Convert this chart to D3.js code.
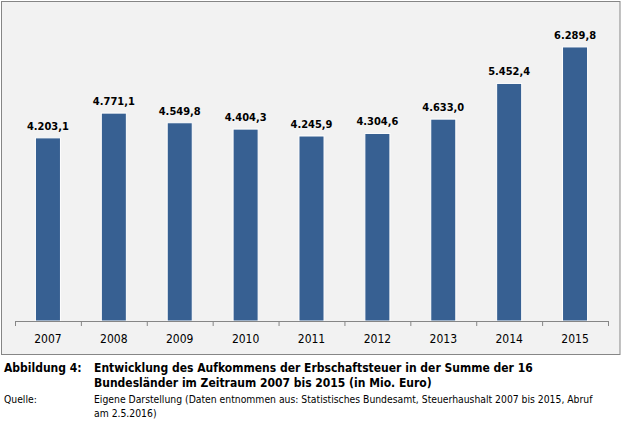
<!DOCTYPE html>
<html>
<head>
<meta charset="utf-8">
<script src="https://cdn.jsdelivr.net/npm/d3@7"></script>
<style>
  body { margin: 0; background: #fff; }
  text { font-family: "DejaVu Sans Condensed", "DejaVu Sans", sans-serif; font-stretch: condensed; }
</style>
</head>
<body>
<div id="chart"></div>
<script>
const width = 624;
const height = 421;

// Daten
const years = ['2007', '2008', '2009', '2010', '2011', '2012', '2013', '2014', '2015'];
const values = [4203.1, 4771.1, 4549.8, 4404.3, 4245.9, 4304.6, 4633.0, 5452.4, 6289.8];
const captionLines = [
  'Entwicklung des Aufkommens der Erbschaftsteuer in der Summe der 16',
  'Bundesländer im Zeitraum 2007 bis 2015 (in Mio. Euro)'
];
const sourceLines = [
  'Eigene Darstellung (Daten entnommen aus: Statistisches Bundesamt, Steuerhaushalt 2007 bis 2015, Abruf',
  'am 2.5.2016)'
];

const de = d3.formatLocale({ decimal: ',', thousands: '.', grouping: [3], currency: ['', ' €'] });
const fmt = de.format(',.1f');

let svg = d3.select('#chart').append('svg')
  .attr('width', width)
  .attr('height', height);

// Rahmen und Hintergrund
svg.append('rect')
  .attr('x', 1.5)
  .attr('y', 1.5)
  .attr('width', 618.5)
  .attr('height', 353)
  .style('fill', '#f2f2f2')
  .style('stroke', '#868686')
  .style('stroke-width', 1);

// Skalen
const x = d3.scaleBand()
  .domain(years)
  .range([15, 608])
  .paddingInner(0.62)
  .paddingOuter(0.31);

const y = d3.scaleLinear()
  .domain([0, 7000])
  .range([321, 16]);

// Säulen
svg.append('g').selectAll('rect')
  .data(years)
  .join('rect')
  .attr('x', d => x(d))
  .attr('y', (d, i) => y(values[i]))
  .attr('width', x.bandwidth())
  .attr('height', (d, i) => y(0) - y(values[i]))
  .style('fill', '#376092')
  .style('stroke', '#ffffff')
  .style('stroke-width', 1);

// Werte über den Säulen
svg.append('g').selectAll('text')
  .data(years)
  .join('text')
  .attr('x', d => x(d) + x.bandwidth() / 2)
  .attr('y', (d, i) => y(values[i]) - 8)
  .attr('text-anchor', 'middle')
  .style('font-size', '11px')
  .style('font-weight', 'bold')
  .style('fill', '#000')
  .text((d, i) => fmt(values[i]));

// Kategorienachse: Striche zwischen den Kategorien
const sep = d3.scaleLinear().domain([0, years.length]).range(x.range());
let axisTicks = svg.append('g')
  .attr('transform', 'translate(0,' + y(0) + ')')
  .call(d3.axisBottom(sep).tickValues(d3.range(years.length + 1)).tickFormat('').tickSize(5).tickSizeOuter(0));
axisTicks.selectAll('path, line').style('stroke', '#868686');

// Jahreszahlen
let axisLabels = svg.append('g')
  .attr('transform', 'translate(0,' + y(0) + ')')
  .call(d3.axisBottom(x).tickSize(0).tickPadding(13));
axisLabels.select('.domain').remove();
axisLabels.selectAll('text')
  .style('font-family', '"DejaVu Sans Condensed", "DejaVu Sans", sans-serif')
  .style('font-stretch', 'condensed')
  .style('font-size', '12px')
  .style('fill', '#000');

// Bildunterschrift
svg.append('text')
  .attr('x', 4)
  .attr('y', 372)
  .style('font-size', '12px')
  .style('font-weight', 'bold')
  .text('Abbildung 4:');

svg.append('g').selectAll('text')
  .data(captionLines)
  .join('text')
  .attr('x', 94)
  .attr('y', (d, i) => 372 + i * 15)
  .style('font-size', '12px')
  .style('font-weight', 'bold')
  .text(d => d);

svg.append('text')
  .attr('x', 4)
  .attr('y', 403)
  .style('font-size', '10.3px')
  .text('Quelle:');

svg.append('g').selectAll('text')
  .data(sourceLines)
  .join('text')
  .attr('x', 94)
  .attr('y', (d, i) => 403 + i * 13.5)
  .style('font-size', '10.3px')
  .text(d => d);
</script>
</body>
</html>
